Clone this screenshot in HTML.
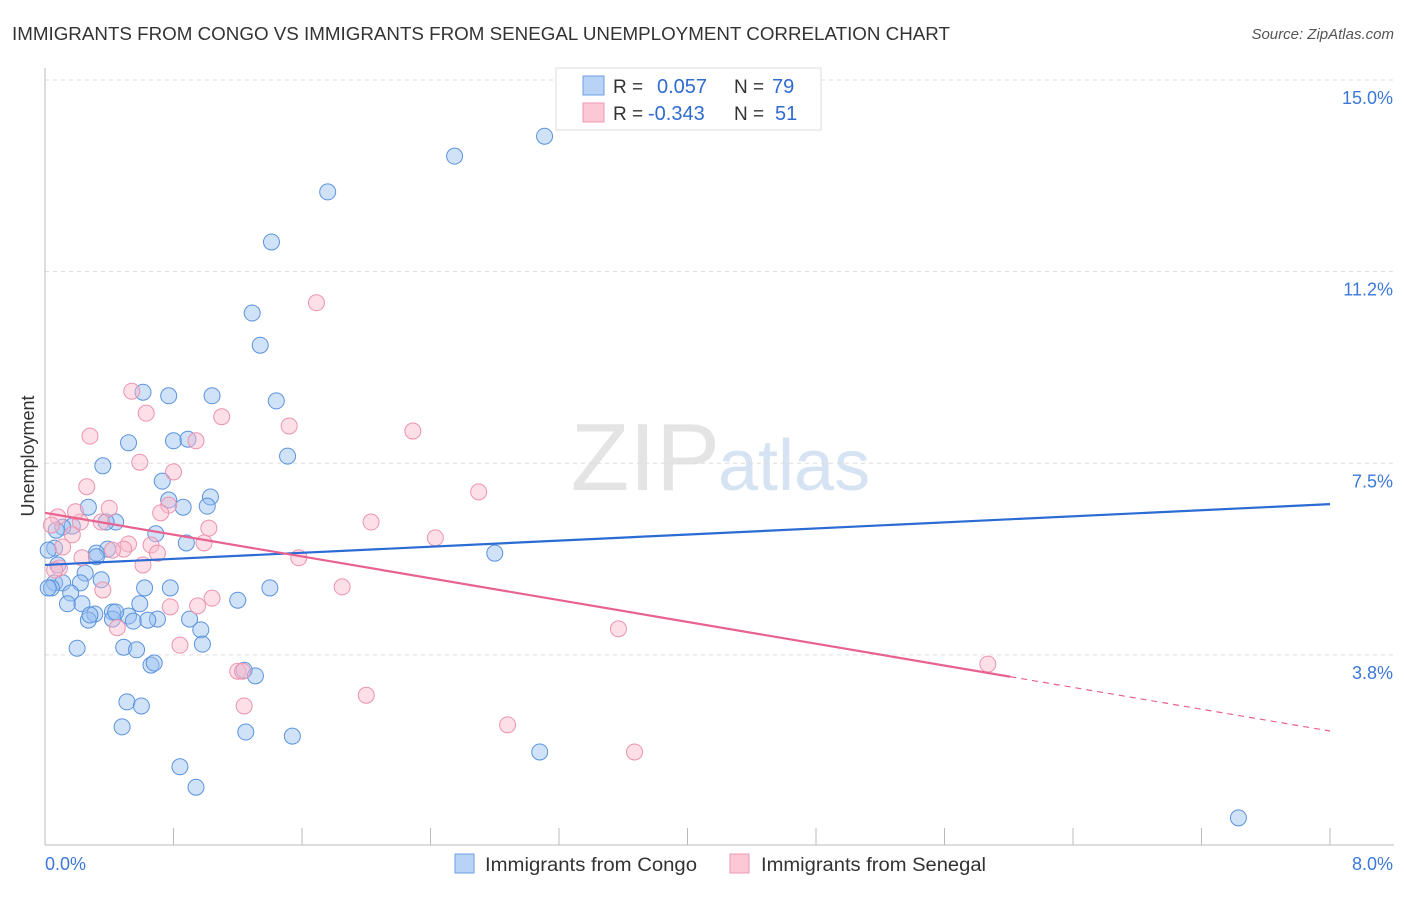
<!DOCTYPE html>
<html><head><meta charset="utf-8"><style>
body{margin:0;background:#fff;font-family:"Liberation Sans",sans-serif;}
svg text{font-family:"Liberation Sans",sans-serif;}
</style></head><body>
<svg id="chart" width="1406" height="892" xmlns="http://www.w3.org/2000/svg">
<text x="12" y="40" font-size="18" fill="#333" textLength="938" lengthAdjust="spacingAndGlyphs">IMMIGRANTS FROM CONGO VS IMMIGRANTS FROM SENEGAL UNEMPLOYMENT CORRELATION CHART</text>
<text x="1394" y="39" font-size="15" fill="#555" font-style="italic" text-anchor="end">Source: ZipAtlas.com</text>
<text x="720" y="490" font-size="96" fill="#e4e4e4" text-anchor="end" font-family="Liberation Serif">ZIP</text>
<text x="718" y="490" font-size="72" fill="#d6e3f3">atlas</text>
<g id="grid"></g>
<g id="axes"></g>
<g id="pts"></g>
<g id="trends"></g>
<text x="34" y="456" font-size="18" fill="#333" text-anchor="middle" transform="rotate(-90 34 456)">Unemployment</text>
<g>
<rect x="556" y="68" width="265" height="62" fill="#fff" stroke="#ddd"/>
<rect x="583" y="76" width="21" height="19" fill="#b8d3f5" stroke="#6d9fe0"/>
<rect x="583" y="103" width="21" height="19" fill="#fcc8d6" stroke="#ec98b2"/>
<text x="613" y="93" font-size="19" fill="#333">R =</text>
<text x="657" y="93" font-size="20" fill="#2f6bd0">0.057</text>
<text x="734" y="93" font-size="19" fill="#333">N =</text>
<text x="772" y="93" font-size="20" fill="#2f6bd0">79</text>
<text x="613" y="120" font-size="19" fill="#333">R =</text>
<text x="648" y="120" font-size="20" fill="#2f6bd0">-0.343</text>
<text x="734" y="120" font-size="19" fill="#333">N =</text>
<text x="775" y="120" font-size="20" fill="#2f6bd0">51</text>
</g>
<g>
<rect x="455" y="854" width="19" height="19" fill="#b8d3f5" stroke="#6d9fe0"/>
<text x="485" y="871" font-size="19" fill="#333" textLength="212" lengthAdjust="spacingAndGlyphs">Immigrants from Congo</text>
<rect x="730" y="854" width="19" height="19" fill="#fcc8d6" stroke="#ec98b2"/>
<text x="761" y="871" font-size="19" fill="#333" textLength="225" lengthAdjust="spacingAndGlyphs">Immigrants from Senegal</text>
</g>
</svg>
<script>
const congoX=[3.11,2.55,1.76,1.41,1.29,1.34,0.61,0.77,1.04,1.44,0.52,0.80,0.89,1.51,0.36,0.73,0.77,1.03,0.27,0.86,1.01,0.44,0.38,0.17,0.11,0.69,0.88,2.80,0.06,0.39,0.32,0.32,0.08,0.25,0.35,0.22,0.06,0.11,0.04,0.62,0.78,1.40,1.20,0.16,0.14,0.59,0.23,0.42,0.31,0.52,0.27,0.42,0.70,0.55,0.64,0.90,0.97,0.98,0.20,0.49,0.57,0.66,0.68,1.24,1.31,0.51,0.60,0.48,1.25,1.54,3.08,0.84,0.94,7.43,0.02,0.02,0.07,0.28,0.44];
const congoY=[13.90,13.51,12.81,11.83,10.44,9.81,8.89,8.82,8.82,8.72,7.90,7.94,7.97,7.64,7.45,7.15,6.78,6.84,6.64,6.64,6.66,6.35,6.35,6.27,6.25,6.12,5.94,5.74,5.84,5.82,5.74,5.67,5.51,5.35,5.22,5.16,5.16,5.16,5.06,5.06,5.06,5.06,4.82,4.96,4.75,4.75,4.75,4.59,4.55,4.51,4.43,4.45,4.45,4.41,4.43,4.45,4.24,3.96,3.88,3.90,3.85,3.55,3.59,3.45,3.34,2.83,2.75,2.34,2.24,2.16,1.85,1.56,1.16,0.56,5.80,5.06,6.19,4.53,4.59];
const senegalX=[1.69,0.54,0.63,1.10,1.52,2.29,0.28,0.94,0.59,0.80,0.26,2.70,0.40,0.77,0.72,1.02,2.03,0.08,0.22,0.35,0.17,2.43,0.99,0.52,0.66,0.11,0.49,0.70,1.58,0.23,0.42,0.61,0.09,1.85,1.04,0.95,0.78,0.36,3.57,0.45,0.84,1.20,1.23,5.87,1.24,2.00,2.88,3.67,0.04,0.19,0.06];
const senegalY=[10.64,8.91,8.48,8.41,8.23,8.13,8.03,7.94,7.52,7.33,7.04,6.94,6.62,6.68,6.53,6.23,6.35,6.45,6.35,6.35,6.10,6.04,5.94,5.92,5.90,5.86,5.82,5.74,5.65,5.65,5.80,5.51,5.45,5.08,4.86,4.71,4.69,5.02,4.26,4.28,3.94,3.43,3.43,3.57,2.75,2.96,2.38,1.85,6.29,6.55,5.41];
const yTicks=[15,11.25,7.5,3.75];
const yTickLabels=["15.0%","11.2%","7.5%","3.8%"];
const xTickLabels=["0.0%","8.0%"];
const congoTrend=[5.51,6.70];
const senegalTrend=[6.53,2.26];
const senegalSolidEnd=6.01;
const NS="http://www.w3.org/2000/svg";
const X=v=>45+v/8*1285;
const Y=v=>80+(15-v)*51.1;
function mk(tag,attrs,parent){const e=document.createElementNS(NS,tag);for(const k in attrs)e.setAttribute(k,attrs[k]);document.getElementById(parent).appendChild(e);return e;}
yTicks.forEach((t,i)=>{
 const l=mk('line',{x1:45,x2:1394,y1:Y(t),y2:Y(t),stroke:'#ddd','stroke-dasharray':'4,4'},'grid');
 
 
 const tx=mk('text',{x:1393,y:Y(t)+24,'font-size':18,fill:'#3c78d8','text-anchor':'end'},'grid');
 tx.textContent=yTickLabels[i];
 
 
});
const ax=mk('line',{x1:45,x2:45,y1:68,y2:845,stroke:'#bbb'},'axes');


const bx=mk('line',{x1:45,x2:1394,y1:845,y2:845,stroke:'#bbb'},'axes');


for(let i=0;i<=10;i++){const t=mk('line',{x1:45+i*128.5,x2:45+i*128.5,y1:828,y2:845,stroke:'#bbb'},'axes');
 
 }
const xl0=mk('text',{x:45,y:870,'font-size':18,fill:'#3c78d8'},'axes');xl0.textContent=xTickLabels[0];


const xl1=mk('text',{x:1393,y:870,'font-size':18,fill:'#3c78d8','text-anchor':'end'},'axes');xl1.textContent=xTickLabels[1];


congoX.forEach((v,i)=>{const c=mk('circle',{cx:X(v),cy:Y(congoY[i]),r:8,fill:'rgba(150,190,240,0.45)',stroke:'#5b93dd','stroke-width':1},'pts');
 
 });
senegalX.forEach((v,i)=>{const c=mk('circle',{cx:X(v),cy:Y(senegalY[i]),r:8,fill:'rgba(250,185,205,0.45)',stroke:'#ec93ae','stroke-width':1},'pts');
 
 });
const bl=mk('line',{x1:X(0),y1:Y(congoTrend[0]),x2:X(8),y2:Y(congoTrend[1]),stroke:'#2a6bd4','stroke-width':2.2},'trends');


const sy=v=>senegalTrend[0]+(senegalTrend[1]-senegalTrend[0])*v/8;
const pl=mk('line',{x1:X(0),y1:Y(sy(0)),x2:X(senegalSolidEnd),y2:Y(sy(senegalSolidEnd)),stroke:'#e8628f','stroke-width':2.2},'trends');


const pd=mk('line',{x1:X(senegalSolidEnd),y1:Y(sy(senegalSolidEnd)),x2:X(8),y2:Y(sy(8)),stroke:'#e8628f','stroke-width':1.2,'stroke-dasharray':'6,5'},'trends');


</script>
</body></html>
